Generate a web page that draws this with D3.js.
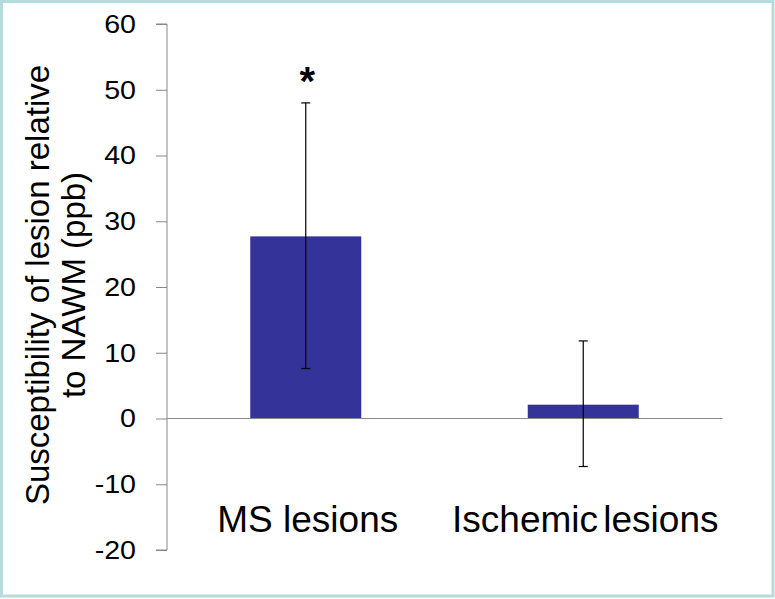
<!DOCTYPE html>
<html>
<head>
<meta charset="utf-8">
<script src="https://cdn.jsdelivr.net/npm/d3@7"></script>
<style>
  html, body { margin: 0; padding: 0; background: #fff; }
  svg text { font-family: "Liberation Sans", Arial, sans-serif; fill: #000; }
</style>
</head>
<body>
<script>
// data
const categories = ["MS lesions", "Ischemic lesions"];
const means = [27.7, 2.1];
const errLow = [7.6, -7.3];
const errHigh = [48.0, 11.8];
const significant = [true, false];
const yTicks = [-20, -10, 0, 10, 20, 30, 40, 50, 60];

const width = 775, height = 599;
const margin = { top: 24, right: 53, bottom: 49, left: 167 };

const svg = d3.select("body").append("svg")
  .attr("width", width)
  .attr("height", height);

// outer frame
svg.append("rect")
  .attr("x", 1.5).attr("y", 1.5)
  .attr("width", width - 3.5).attr("height", height - 4.5)
  .attr("fill", "#fff")
  .attr("stroke", "#b5dcdc")
  .attr("stroke-width", 3);

const y = d3.scaleLinear()
  .domain([-20, 60])
  .range([height - margin.bottom, margin.top]);

const x = d3.scaleBand()
  .domain(categories)
  .range([margin.left, width - margin.right])
  .paddingInner(0.6)
  .paddingOuter(0.3);

// y axis
const yAxis = svg.append("g")
  .attr("transform", `translate(${margin.left},0)`)
  .call(d3.axisLeft(y).tickValues(yTicks).tickSize(11).tickPadding(20).tickFormat(d => String(d)));
yAxis.select(".domain").attr("stroke", "#888").attr("d", `M-11,${y(60)}H0V${y(-20)}H-11`);
yAxis.selectAll(".tick line").attr("stroke", "#888");
// excel labels come out a touch wider than Liberation Sans
yAxis.selectAll(".tick text")
  .attr("font-size", 26)
  .attr("font-family", "'Liberation Sans', Arial, sans-serif")
  .attr("fill", "#000")
  .attr("x", -31 / 1.1)
  .attr("transform", "scale(1.1,1)");

// bars
svg.selectAll(".bar")
  .data(categories)
  .enter().append("rect")
    .attr("class", "bar")
    .attr("x", d => x(d))
    .attr("width", x.bandwidth())
    .attr("y", (d, i) => y(Math.max(0, means[i])))
    .attr("height", (d, i) => Math.abs(y(means[i]) - y(0)))
    .attr("fill", "#333399");

// zero line
svg.append("line")
  .attr("x1", margin.left).attr("x2", width - margin.right + 0.5)
  .attr("y1", y(0)).attr("y2", y(0))
  .attr("stroke", "#888");

// error bars
const cx = d => x(d) + x.bandwidth() / 2;
const eb = svg.selectAll(".err")
  .data(categories)
  .enter().append("g")
    .attr("class", "err")
    .attr("stroke", "#000")
    .attr("stroke-width", 1.2);
eb.append("line")
  .attr("x1", cx).attr("x2", cx)
  .attr("y1", (d, i) => y(errLow[i])).attr("y2", (d, i) => y(errHigh[i]));
eb.append("line")
  .attr("x1", d => cx(d) - 4.5).attr("x2", d => cx(d) + 4.5)
  .attr("y1", (d, i) => y(errLow[i])).attr("y2", (d, i) => y(errLow[i]));
eb.append("line")
  .attr("x1", d => cx(d) - 4.5).attr("x2", d => cx(d) + 4.5)
  .attr("y1", (d, i) => y(errHigh[i])).attr("y2", (d, i) => y(errHigh[i]));

// significance star
svg.selectAll(".star")
  .data(categories.filter((d, i) => significant[i]))
  .enter().append("text")
    .attr("class", "star")
    .attr("x", d => cx(d) + 1.5)
    .attr("y", d => y(errHigh[categories.indexOf(d)]) - 8)
    .attr("text-anchor", "middle")
    .attr("font-size", 40)
    .attr("font-weight", "bold")
    .text("*");

// category labels
svg.selectAll(".cat")
  .data(categories)
  .enter().append("text")
    .attr("class", "cat")
    .attr("x", d => cx(d) + 2)
    .attr("y", 532)
    .attr("text-anchor", "middle")
    .attr("font-size", 37)
    .attr("word-spacing", (d, i) => i === 1 ? -5 : 0)
    .text(d => d);

// y label
const yl = svg.append("text")
  .attr("transform", `translate(49,285) rotate(-90)`)
  .attr("text-anchor", "middle")
  .attr("font-size", 33);
yl.append("tspan").attr("x", 0).attr("y", 0).text("Susceptibility of lesion relative");
yl.append("tspan").attr("x", 0).attr("y", 36).text("to NAWM (ppb)");
</script>
</body>
</html>
